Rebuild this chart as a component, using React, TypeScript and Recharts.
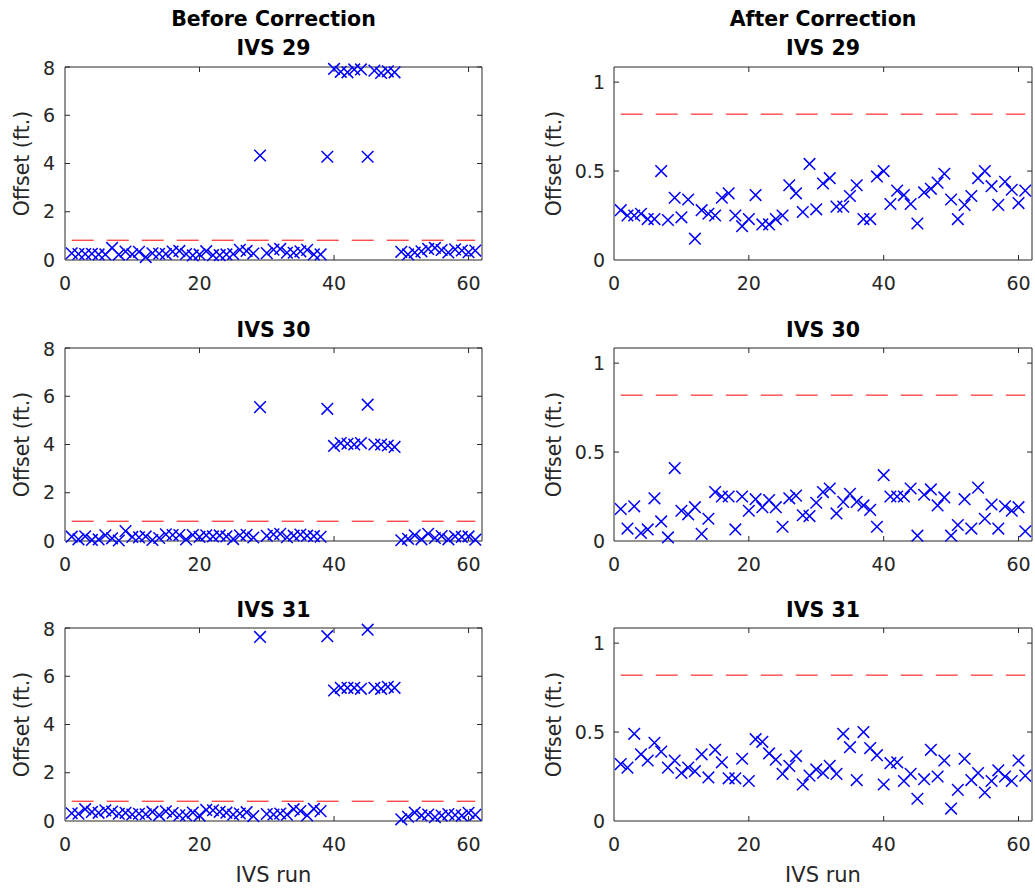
import React from 'react';
import { ScatterChart, Scatter, XAxis, YAxis, ReferenceLine } from 'recharts';

// IVS run numbers (x axis)
const runs = [
  1, 2, 3, 4, 5, 6, 7, 8, 9, 10, 11, 12, 13, 14, 15, 16, 17, 18, 19, 20,
  21, 22, 23, 24, 25, 26, 27, 28, 29, 30, 31, 32, 33, 34, 35, 36, 37, 38, 39, 40,
  41, 42, 43, 44, 45, 46, 47, 48, 49, 50, 51, 52, 53, 54, 55, 56, 57, 58, 59, 60, 61,
];

// offsets before correction (ft.)
const before29 = [
  0.28, 0.25, 0.25, 0.26, 0.23, 0.23, 0.5, 0.225, 0.35, 0.24,
  0.34, 0.12, 0.28, 0.26, 0.25, 0.35, 0.375, 0.25, 0.19, 0.23,
  0.365, 0.2, 0.2, 0.23, 0.25, 0.42, 0.375, 0.27, 4.33, 0.285,
  0.43, 0.46, 0.3, 0.3, 0.36, 0.42, 0.23, 0.23, 4.28, 7.92,
  7.8, 7.78, 7.9, 7.9, 4.28, 7.85, 7.75, 7.82, 7.78, 0.34,
  0.23, 0.31, 0.36, 0.46, 0.5, 0.415, 0.31, 0.44, 0.395, 0.32, 0.39,
];
const before30 = [
  0.18, 0.07, 0.195, 0.045, 0.065, 0.24, 0.11, 0.02, 0.41, 0.17,
  0.15, 0.19, 0.04, 0.125, 0.275, 0.25, 0.25, 0.065, 0.25, 0.17,
  0.235, 0.19, 0.23, 0.19, 0.08, 0.24, 0.255, 0.145, 5.55, 0.215,
  0.275, 0.295, 0.155, 0.22, 0.265, 0.22, 0.2, 0.175, 5.48, 3.94,
  4.06, 4.03, 4.0, 4.06, 5.65, 4.0, 4.0, 3.96, 3.9, 0.03,
  0.09, 0.235, 0.07, 0.3, 0.125, 0.205, 0.07, 0.195, 0.17, 0.19, 0.055,
];
const before31 = [
  0.32, 0.3, 0.49, 0.375, 0.34, 0.44, 0.39, 0.3, 0.34, 0.27,
  0.3, 0.28, 0.375, 0.245, 0.4, 0.33, 0.24, 0.24, 0.35, 0.225,
  0.46, 0.445, 0.38, 0.345, 0.265, 0.31, 0.365, 0.205, 7.63, 0.29,
  0.27, 0.31, 0.265, 0.49, 0.415, 0.23, 0.5, 0.41, 7.66, 5.41,
  5.52, 5.52, 5.52, 5.48, 7.93, 5.52, 5.48, 5.56, 5.52, 0.07,
  0.175, 0.35, 0.23, 0.27, 0.16, 0.225, 0.285, 0.25, 0.225, 0.34, 0.255,
];

// offsets after correction (ft.)
const after29 = [
  0.28, 0.25, 0.25, 0.26, 0.23, 0.23, 0.5, 0.225, 0.35, 0.24,
  0.34, 0.12, 0.28, 0.26, 0.25, 0.35, 0.375, 0.25, 0.19, 0.23,
  0.365, 0.2, 0.2, 0.23, 0.25, 0.42, 0.375, 0.27, 0.54, 0.285,
  0.43, 0.46, 0.3, 0.3, 0.36, 0.42, 0.23, 0.23, 0.47, 0.5,
  0.315, 0.39, 0.365, 0.315, 0.205, 0.38, 0.4, 0.435, 0.485, 0.34,
  0.23, 0.31, 0.36, 0.46, 0.5, 0.415, 0.31, 0.44, 0.395, 0.32, 0.39,
];
const after30 = [
  0.18, 0.07, 0.195, 0.045, 0.065, 0.24, 0.11, 0.02, 0.41, 0.17,
  0.15, 0.19, 0.04, 0.125, 0.275, 0.25, 0.25, 0.065, 0.25, 0.17,
  0.235, 0.19, 0.23, 0.19, 0.08, 0.24, 0.255, 0.145, 0.14, 0.215,
  0.275, 0.295, 0.155, 0.22, 0.265, 0.22, 0.2, 0.175, 0.08, 0.37,
  0.25, 0.25, 0.25, 0.295, 0.03, 0.26, 0.29, 0.2, 0.245, 0.03,
  0.09, 0.235, 0.07, 0.3, 0.125, 0.205, 0.07, 0.195, 0.17, 0.19, 0.055,
];
const after31 = [
  0.32, 0.3, 0.49, 0.375, 0.34, 0.44, 0.39, 0.3, 0.34, 0.27,
  0.3, 0.28, 0.375, 0.245, 0.4, 0.33, 0.24, 0.24, 0.35, 0.225,
  0.46, 0.445, 0.38, 0.345, 0.265, 0.31, 0.365, 0.205, 0.255, 0.29,
  0.27, 0.31, 0.265, 0.49, 0.415, 0.23, 0.5, 0.41, 0.37, 0.205,
  0.325, 0.33, 0.225, 0.265, 0.125, 0.235, 0.4, 0.25, 0.34, 0.07,
  0.175, 0.35, 0.23, 0.27, 0.16, 0.225, 0.285, 0.25, 0.225, 0.34, 0.255,
];

const threshold = 0.82;
const xMax = 62;
const xTicks = [0, 20, 40, 60];
const beforeTicks = [0, 2, 4, 6, 8];
const afterTicks = [0, 0.5, 1];

const FONT = '"DejaVu Sans", sans-serif';
const AXIS = '#262626';
const ML = 60;
const MT = 10;
const MR = 10;
const MB = 40;
const PLOT_H = 193;
const TICK_LEN = 5; // px, MATLAB-style inward ticks

const XMark = (props: any) => {
  const { cx, cy } = props;
  if (cx == null || cy == null) return null;
  const s = 5.8;
  return (
    <path
      d={`M${cx - s},${cy - s}L${cx + s},${cy + s}M${cx - s},${cy + s}L${cx + s},${cy - s}`}
      stroke="#0000ff"
      strokeWidth={1.5}
      fill="none"
    />
  );
};

interface PanelProps {
  left: number;
  top: number;
  plotW: number;
  values: number[];
  yMax: number;
  yTicks: number[];
  tickGap: number;
}

const Panel = ({ left, top, plotW, values, yMax, yTicks, tickGap }: PanelProps) => {
  const data = runs.map((run, i) => ({ run, offset: values[i] }));
  const tickStyle = { fill: AXIS, fontSize: 19, fontFamily: FONT };
  const dy = (yMax * TICK_LEN) / PLOT_H;
  const dx = (xMax * TICK_LEN) / plotW;
  return (
    <div style={{ position: 'absolute', left: left - ML, top: top - MT }}>
      <ScatterChart
        width={plotW + ML + MR}
        height={PLOT_H + MT + MB}
        margin={{ top: MT, right: MR, bottom: 0, left: 0 }}
      >
        <XAxis
          type="number"
          dataKey="run"
          domain={[0, xMax]}
          ticks={xTicks}
          height={MB}
          tickLine={false}
          tickSize={0}
          tickMargin={17}
          stroke={AXIS}
          tick={tickStyle}
        />
        <YAxis
          type="number"
          dataKey="offset"
          domain={[0, yMax]}
          ticks={yTicks}
          width={ML}
          tickLine={false}
          tickSize={0}
          tickMargin={tickGap}
          stroke={AXIS}
          tick={tickStyle}
        />
        {/* box: top and right edges */}
        <ReferenceLine y={yMax} stroke={AXIS} strokeWidth={1} />
        <ReferenceLine x={xMax} stroke={AXIS} strokeWidth={1} />
        {/* inward tick marks on all four sides */}
        {xTicks.filter((t) => t > 0).map((t) => (
          <ReferenceLine key={`xb${t}`} segment={[{ x: t, y: 0 }, { x: t, y: dy }]} stroke={AXIS} />
        ))}
        {xTicks.filter((t) => t > 0).map((t) => (
          <ReferenceLine key={`xt${t}`} segment={[{ x: t, y: yMax }, { x: t, y: yMax - dy }]} stroke={AXIS} />
        ))}
        {yTicks.filter((t) => t > 0).map((t) => (
          <ReferenceLine key={`yl${t}`} segment={[{ x: 0, y: t }, { x: dx, y: t }]} stroke={AXIS} />
        ))}
        {yTicks.filter((t) => t > 0).map((t) => (
          <ReferenceLine key={`yr${t}`} segment={[{ x: xMax, y: t }, { x: xMax - dx, y: t }]} stroke={AXIS} />
        ))}
        <Scatter data={data} shape={<XMark />} isAnimationActive={false} />
        <ReferenceLine
          segment={[
            { x: 1, y: threshold },
            { x: 61, y: threshold },
          ]}
          stroke="#ff0000"
          strokeWidth={1}
          strokeDasharray="22 13"
        />
      </ScatterChart>
    </div>
  );
};

const Title = ({ cx, top, text, bold }: { cx: number; top: number; text: string; bold?: boolean }) => (
  <div
    style={{
      position: 'absolute',
      left: cx - 200,
      top,
      width: 400,
      textAlign: 'center',
      fontFamily: FONT,
      fontSize: bold ? 20.5 : 21,
      fontWeight: bold ? 'bold' : 'normal',
      lineHeight: 1,
      color: bold ? '#000' : AXIS,
      whiteSpace: 'nowrap',
    }}
  >
    {text}
  </div>
);

const YLabel = ({ cx, cy }: { cx: number; cy: number }) => (
  <div
    style={{
      position: 'absolute',
      left: cx - 100,
      top: cy - 10.5,
      width: 200,
      height: 21,
      textAlign: 'center',
      fontFamily: FONT,
      fontSize: 20.5,
      lineHeight: '21px',
      color: AXIS,
      transform: 'rotate(-90deg)',
      whiteSpace: 'nowrap',
    }}
  >
    Offset (ft.)
  </div>
);

const rowTops = [67, 348, 628];
const LEFT_X = 65;
const RIGHT_X = 614;
const LEFT_W = 417;
const RIGHT_W = 418;

export default function App() {
  const leftC = LEFT_X + LEFT_W / 2;
  const rightC = RIGHT_X + RIGHT_W / 2;
  const beforeSets = [before29, before30, before31];
  const afterSets = [after29, after30, after31];
  const names = ['IVS 29', 'IVS 30', 'IVS 31'];
  const nameTops = [38, 320, 600];
  return (
    <div
      style={{
        position: 'absolute',
        left: 0,
        top: 0,
        width: 1035,
        height: 892,
        background: '#fff',
        overflow: 'hidden',
      }}
    >
      <Title cx={leftC} top={9} text="Before Correction" bold />
      <Title cx={rightC} top={9} text="After Correction" bold />
      {rowTops.map((top, r) => (
        <React.Fragment key={r}>
          <Title cx={leftC} top={nameTops[r]} text={names[r]} bold />
          <Title cx={rightC} top={nameTops[r]} text={names[r]} bold />
          <YLabel cx={22} cy={top + PLOT_H / 2} />
          <YLabel cx={554} cy={top + PLOT_H / 2} />
          <Panel
            left={LEFT_X}
            top={top}
            plotW={LEFT_W}
            values={beforeSets[r]}
            yMax={8}
            yTicks={beforeTicks}
            tickGap={10}
          />
          <Panel
            left={RIGHT_X}
            top={top}
            plotW={RIGHT_W}
            values={afterSets[r]}
            yMax={1.085}
            yTicks={afterTicks}
            tickGap={9}
          />
        </React.Fragment>
      ))}
      <Title cx={leftC} top={865} text="IVS run" />
      <Title cx={rightC} top={865} text="IVS run" />
    </div>
  );
}
